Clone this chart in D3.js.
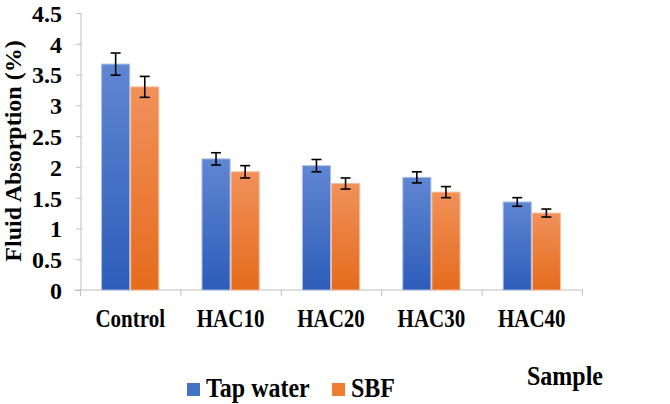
<!DOCTYPE html>
<html lang="en">
<head>
    <meta charset="UTF-8">
    <title>Fluid Absorption</title>
    <script src="https://d3js.org/d3.v7.min.js"></script>
    <style>
        body{
            margin: 0;
            background-color: white;
        }
    </style>
</head>
<body>
    <script>
    // values
    const categories = ["Control", "HAC10", "HAC20", "HAC30", "HAC40"];
    const tapWater = [3.67, 2.13, 2.02, 1.83, 1.43];
    const sbf = [3.30, 1.92, 1.73, 1.59, 1.25];
    const tapWaterErr = [0.18, 0.10, 0.10, 0.09, 0.07];
    const sbfErr = [0.17, 0.10, 0.09, 0.09, 0.065];
    const seriesNames = ["Tap water", "SBF"];
    const yTicks = [0, 0.5, 1, 1.5, 2, 2.5, 3, 3.5, 4, 4.5];

    const width = 670;
    const height = 404;
    const FONT = '"Liberation Serif"';

    const svg = d3.select('body')
    .append('svg')
    .attr('width', width)
    .attr('height', height);

    // gradients like the original fill
    const defs = svg.append('defs');
    const grads = [
        { id: 'gBlue', top: '#5f86d2', bottom: '#2d5db9' },
        { id: 'gOrange', top: '#f1915a', bottom: '#e56b1c' }
    ];
    grads.forEach(g => {
        const lg = defs.append('linearGradient')
        .attr('id', g.id)
        .attr('x1', 0).attr('y1', 0).attr('x2', 0).attr('y2', 1);
        lg.append('stop').attr('offset', '0%').attr('stop-color', g.top);
        lg.append('stop').attr('offset', '100%').attr('stop-color', g.bottom);
    });
    const fills = ['url(#gBlue)', 'url(#gOrange)'];
    const strokes = ['#a9bfe6', '#f6bd98'];
    const legendColors = ['#4472c4', '#ed7d31'];

    const x0 = d3.scaleBand()
    .domain(categories)
    .range([80, 582])
    .paddingInner(0.42)
    .paddingOuter(0.21);

    const x1 = d3.scaleBand()
    .domain(seriesNames)
    .range([0, x0.bandwidth()]);

    const xEdge = d3.scaleLinear()
    .domain([0, categories.length])
    .range([80, 582]);

    const yScale = d3.scaleLinear()
    .domain([0, 4.5])
    .range([290, 13]);

    // Y axis
    const yAxis = svg.append('g')
    .attr('transform', 'translate(81, 0)')
    .call(d3.axisLeft(yScale).tickValues(yTicks).tickSize(5).tickPadding(14)
        .tickFormat(d => d3.format('')(d)));
    yAxis.select('.domain').attr('stroke', '#bfbfbf').attr('d', `M0,${yScale(4.5)}V${yScale(0)}`);
    yAxis.selectAll('.tick line').attr('stroke', '#bfbfbf');
    yAxis.selectAll('.tick text')
    .style('font-family', FONT)
    .style('font-weight', 'bold')
    .style('font-size', '24px')
    .attr('fill', 'black')
    .attr('dy', '0.35em');

    // X axis (ticks between categories)
    const xAxis = svg.append('g')
    .attr('transform', `translate(0, ${yScale(0)})`)
    .call(d3.axisBottom(xEdge).tickValues(d3.range(categories.length + 1)).tickSize(6).tickFormat(''));
    xAxis.select('.domain').attr('stroke', '#bfbfbf').attr('d', 'M74,0H583');
    xAxis.selectAll('.tick line').attr('stroke', '#bfbfbf');

    // category labels, a bit taller than wide like the original
    svg.selectAll('.cat-label')
    .data(categories)
    .enter()
    .append('text')
    .attr('class', 'cat-label')
    .attr('text-anchor', 'middle')
    .attr('transform', d => `translate(${x0(d) + x0.bandwidth() / 2}, 327) scale(1, 1.15)`)
    .style('font-family', FONT)
    .style('font-weight', 'bold')
    .style('font-size', '21px')
    .text(d => d);

    // bars
    const rows = categories.map((c, i) => ({
        cat: c,
        vals: [
            { s: 0, v: tapWater[i], e: tapWaterErr[i] },
            { s: 1, v: sbf[i], e: sbfErr[i] }
        ]
    }));

    const groups = svg.selectAll('.grp')
    .data(rows)
    .enter()
    .append('g')
    .attr('class', 'grp')
    .attr('transform', d => `translate(${x0(d.cat)}, 0)`);

    groups.selectAll('rect')
    .data(d => d.vals)
    .enter()
    .append('rect')
    .attr('x', d => x1(seriesNames[d.s]) + 0.5)
    .attr('y', d => yScale(d.v))
    .attr('width', x1.bandwidth() - 1)
    .attr('height', d => yScale(0) - yScale(d.v))
    .attr('fill', d => fills[d.s])
    .attr('stroke', d => strokes[d.s])
    .attr('stroke-width', 1);

    // error bars
    const err = groups.selectAll('.err')
    .data(d => d.vals)
    .enter()
    .append('g')
    .attr('class', 'err')
    .attr('stroke', 'black')
    .attr('stroke-width', 1.6);

    const cx = d => x1(seriesNames[d.s]) + x1.bandwidth() / 2;
    err.append('line')
    .attr('x1', cx).attr('x2', cx)
    .attr('y1', d => yScale(d.v + d.e))
    .attr('y2', d => yScale(d.v - d.e));
    err.append('line')
    .attr('x1', d => cx(d) - 5).attr('x2', d => cx(d) + 5)
    .attr('y1', d => yScale(d.v + d.e)).attr('y2', d => yScale(d.v + d.e));
    err.append('line')
    .attr('x1', d => cx(d) - 5).attr('x2', d => cx(d) + 5)
    .attr('y1', d => yScale(d.v - d.e)).attr('y2', d => yScale(d.v - d.e));

    // Y axis title
    svg.append('text')
    .attr('text-anchor', 'middle')
    .attr('transform', 'translate(21, 151) rotate(-90)')
    .style('font-family', FONT)
    .style('font-weight', 'bold')
    .style('font-size', '24px')
    .text('Fluid Absorption (%)');

    // legend
    const legendX = [187, 332];
    const legend = svg.selectAll('.legend')
    .data(seriesNames)
    .enter()
    .append('g')
    .attr('class', 'legend')
    .attr('transform', (d, i) => `translate(${legendX[i]}, 383)`);
    legend.append('rect')
    .attr('width', 13)
    .attr('height', 13)
    .attr('fill', (d, i) => legendColors[i]);
    legend.append('text')
    .attr('transform', 'translate(19, 14) scale(1, 1.1)')
    .style('font-family', FONT)
    .style('font-weight', 'bold')
    .style('font-size', '24px')
    .text(d => d);

    svg.append('text')
    .attr('transform', 'translate(527, 385) scale(1, 1.1)')
    .style('font-family', FONT)
    .style('font-weight', 'bold')
    .style('font-size', '24px')
    .text('Sample');
    </script>
</body>
</html>
